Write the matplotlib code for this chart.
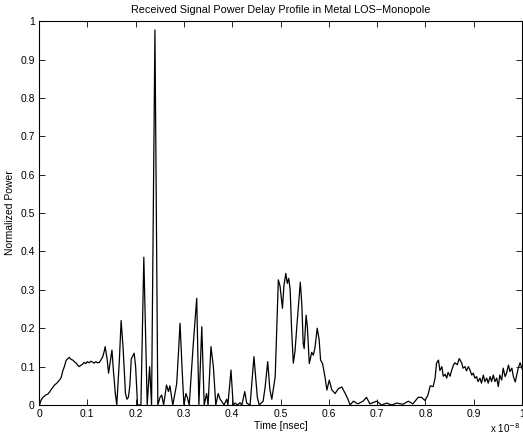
"""Received signal power delay profile (metal room, LOS, monopole)."""

import matplotlib

matplotlib.use("Agg")
import matplotlib.pyplot as plt

plt.rcParams["font.family"] = ["Liberation Sans", "DejaVu Sans"]

# time in units of 1e-8 s, power normalized to the strongest path
time = [
    0.001, 0.004, 0.008, 0.012, 0.015, 0.018, 0.022, 0.025, 0.029, 0.032,
    0.036, 0.039, 0.043, 0.046, 0.049, 0.053, 0.056, 0.059, 0.063, 0.066,
    0.070, 0.073, 0.077, 0.080, 0.083, 0.086, 0.090, 0.093, 0.097, 0.100,
    0.104, 0.107, 0.111, 0.114, 0.118, 0.121, 0.125, 0.128, 0.132, 0.135,
    0.137, 0.139, 0.141, 0.144, 0.148, 0.151, 0.154, 0.158, 0.161, 0.1665,
    0.170, 0.174, 0.179, 0.182, 0.185, 0.188, 0.191, 0.197, 0.200, 0.204,
    0.211, 0.217, 0.224, 0.229, 0.233, 0.240, 0.246, 0.2505, 0.254, 0.258,
    0.264, 0.268, 0.271, 0.277, 0.285, 0.288, 0.292, 0.296, 0.300, 0.304,
    0.307, 0.311, 0.319, 0.3265, 0.331, 0.337, 0.342, 0.347, 0.350, 0.356,
    0.361, 0.366, 0.371, 0.375, 0.378, 0.383, 0.3886, 0.391, 0.3975, 0.402,
    0.406, 0.411, 0.416, 0.420, 0.426, 0.430, 0.437, 0.445, 0.452, 0.456,
    0.464, 0.468, 0.4735, 0.478, 0.482, 0.489, 0.492, 0.4955, 0.499, 0.504,
    0.507, 0.511, 0.514, 0.517, 0.520, 0.523, 0.5265, 0.530, 0.5335, 0.539,
    0.541, 0.544, 0.547, 0.549, 0.553, 0.5555, 0.5596, 0.5646, 0.568, 0.5714,
    0.576, 0.580, 0.583, 0.587, 0.592, 0.596, 0.601, 0.606, 0.613, 0.620,
    0.627, 0.634, 0.640, 0.644, 0.651, 0.660, 0.671, 0.678, 0.685, 0.699,
    0.7095, 0.720, 0.730, 0.7405, 0.7536, 0.7646, 0.774, 0.785, 0.792, 0.799,
    0.805, 0.810, 0.816, 0.820, 0.823, 0.827, 0.830, 0.834, 0.837, 0.841,
    0.844, 0.847, 0.851, 0.854, 0.858, 0.861, 0.866, 0.870, 0.875, 0.878,
    0.882, 0.885, 0.889, 0.892, 0.896, 0.899, 0.9025, 0.906, 0.909, 0.913,
    0.916, 0.920, 0.923, 0.927, 0.930, 0.934, 0.937, 0.9406, 0.944, 0.9476,
    0.951, 0.954, 0.958, 0.961, 0.965, 0.968, 0.972, 0.975, 0.979, 0.982,
    0.986, 0.989, 0.992, 0.996, 1.000,
]
power = [
    0.000, 0.012, 0.020, 0.024, 0.027, 0.028, 0.034, 0.040, 0.047, 0.052,
    0.056, 0.060, 0.066, 0.072, 0.088, 0.102, 0.116, 0.120, 0.124, 0.119,
    0.117, 0.113, 0.109, 0.104, 0.100, 0.103, 0.106, 0.111, 0.108, 0.113,
    0.110, 0.114, 0.112, 0.109, 0.113, 0.110, 0.111, 0.117, 0.126, 0.140,
    0.152, 0.135, 0.120, 0.083, 0.117, 0.143, 0.090, 0.030, 0.000, 0.120,
    0.220, 0.150, 0.030, 0.015, 0.020, 0.050, 0.120, 0.135, 0.100, 0.000,
    0.000, 0.385, 0.000, 0.100, 0.000, 0.977, 0.000, 0.020, 0.026, 0.000,
    0.052, 0.035, 0.050, 0.000, 0.055, 0.120, 0.213, 0.100, 0.000, 0.030,
    0.020, 0.000, 0.152, 0.278, 0.000, 0.204, 0.000, 0.030, 0.000, 0.152,
    0.100, 0.000, 0.030, 0.015, 0.010, 0.000, 0.015, 0.000, 0.091, 0.000,
    0.005, 0.000, 0.006, 0.000, 0.035, 0.005, 0.000, 0.126, 0.020, 0.000,
    0.010, 0.045, 0.113, 0.040, 0.015, 0.074, 0.187, 0.326, 0.310, 0.252,
    0.310, 0.343, 0.317, 0.330, 0.300, 0.195, 0.109, 0.140, 0.200, 0.290,
    0.320, 0.265, 0.160, 0.147, 0.234, 0.205, 0.108, 0.137, 0.130, 0.150,
    0.200, 0.170, 0.117, 0.108, 0.074, 0.039, 0.065, 0.040, 0.030, 0.043,
    0.047, 0.030, 0.014, 0.000, 0.010, 0.003, 0.010, 0.020, 0.003, 0.010,
    0.000, 0.005, 0.000, 0.005, 0.002, 0.010, 0.003, 0.020, 0.020, 0.012,
    0.025, 0.050, 0.048, 0.070, 0.109, 0.117, 0.090, 0.100, 0.075, 0.080,
    0.070, 0.085, 0.075, 0.089, 0.104, 0.110, 0.105, 0.121, 0.110, 0.096,
    0.100, 0.089, 0.100, 0.092, 0.078, 0.083, 0.070, 0.074, 0.061, 0.070,
    0.057, 0.078, 0.061, 0.070, 0.057, 0.074, 0.061, 0.078, 0.061, 0.070,
    0.048, 0.078, 0.065, 0.096, 0.074, 0.083, 0.104, 0.087, 0.096, 0.075,
    0.060, 0.078, 0.095, 0.110, 0.095,
]

ticks = [i / 10 for i in range(11)]
tick_labels = ["0", "0.1", "0.2", "0.3", "0.4", "0.5", "0.6", "0.7", "0.8", "0.9", "1"]

fig = plt.figure(figsize=(5.23, 4.40), dpi=100)
ax = fig.add_axes([0.0746, 0.0795, 0.9235, 0.8725])
ax.plot(time, power, color="black", linewidth=0.9)

ax.set_xlim(0, 1)
ax.set_ylim(0, 1)
ax.set_xticks(ticks)
ax.set_xticklabels(tick_labels)
ax.set_yticks(ticks)
ax.set_yticklabels(tick_labels)
ax.tick_params(direction="in", top=True, right=True, length=4, width=0.6,
               labelsize=7.5, pad=3)
for spine in ax.spines.values():
    spine.set_linewidth(0.8)

ax.set_title("Received Signal Power Delay Profile in Metal LOS\u2212Monopole",
             fontsize=7.8, pad=6)
ax.set_xlabel("Time [nsec]", fontsize=7.5, labelpad=1)
ax.set_ylabel("Normalized Power", fontsize=7.5, labelpad=4)
fig.text(0.995, 0.012, r"x 10$^{-8}$", fontsize=7, ha="right", va="bottom")

fig.savefig("out.png", dpi=100)
